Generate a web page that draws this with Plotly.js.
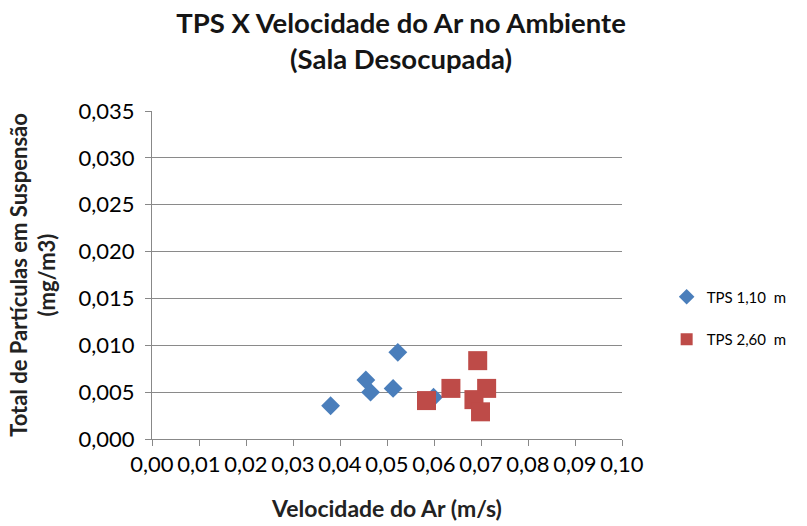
<!DOCTYPE html>
<html>
<head>
<meta charset="utf-8">
<script src="https://cdn.plot.ly/plotly-3.0.1.min.js"></script>
<style>html,body{margin:0;padding:0;background:#fff;}#chart{width:807px;height:526px;}</style>
</head>
<body>
<div id="chart"></div>
<script>
const seriesNames = ["TPS 1,10  m", "TPS 2,60  m"];
const velBlue = [0.0380, 0.0455, 0.0465, 0.0513, 0.0523, 0.0599];
const tpsBlue = [0.00355, 0.0063, 0.0050, 0.0054, 0.00925, 0.00445];
const velRed = [0.0584, 0.0636, 0.0693, 0.0712, 0.0685, 0.0699];
const tpsRed = [0.0041, 0.0054, 0.00836, 0.0054, 0.0042, 0.0029];
const xTicks = [0, 0.01, 0.02, 0.03, 0.04, 0.05, 0.06, 0.07, 0.08, 0.09, 0.10];
const yTicks = [0, 0.005, 0.010, 0.015, 0.020, 0.025, 0.030, 0.035];

const font = "Lato, 'Open Sans', sans-serif";
const traces = [
  {x: velBlue, y: tpsBlue, name: seriesNames[0], legendgroup: "a", type: "scatter", mode: "markers",
   marker: {symbol: "diamond", size: 14.5, color: "#4a7ebb"}},
  {x: velRed, y: tpsRed, name: seriesNames[1], legendgroup: "b", type: "scatter", mode: "markers",
   marker: {symbol: "square", size: 19, color: "#be4b48"}}
];
const layout = {
  width: 807, height: 526,
  margin: {l: 152, r: 185, t: 111, b: 87},
  separators: ", ",
  paper_bgcolor: "#fff", plot_bgcolor: "#fff",
  font: {family: font, color: "#000", size: 16},
  title: {text: "<b>TPS X Velocidade do Ar no Ambiente<br>(Sala Desocupada)</b>",
          font: {family: font, size: 27.5, color: "#151515"}, xref: "container", x: 0.497, xanchor: "center", yref: "container", y: 0.937, yanchor: "middle"},
  xaxis: {range: [0, 0.10], tickvals: xTicks, tickformat: ".2f", showgrid: false, zeroline: false,
          showline: true, linecolor: "#888", linewidth: 1, ticks: "outside", ticklen: 6, tickcolor: "#888",
          tickfont: {size: 22, family: font},
          title: {text: "<b>Velocidade do Ar (m/s)</b>", font: {size: 23, family: font, color: "#222"}, standoff: 24}},
  yaxis: {range: [0, 0.035], tickvals: yTicks, tickformat: ".3f", showgrid: true, gridcolor: "#8a8a8a", gridwidth: 1,
          zeroline: false, showline: true, linecolor: "#888", linewidth: 1, ticks: "outside", ticklen: 6, tickcolor: "#888",
          tickfont: {size: 22, family: font}, ticklabelstandoff: 6,
          title: {text: "<b>Total de Partículas em Suspensão<br>(mg/m3)</b>", font: {size: 22, family: font, color: "#222"}, standoff: 16}},
  legend: {x: 1.095, xanchor: "left", y: 0.369, yanchor: "middle", font: {size: 15, family: font, color: "#000"},
           tracegroupgap: 20, itemsizing: "constant", itemwidth: 30, bgcolor: "rgba(0,0,0,0)"},
  showlegend: true
};
Plotly.newPlot("chart", traces, layout, {displayModeBar: false, staticPlot: true});
</script>
</body>
</html>
